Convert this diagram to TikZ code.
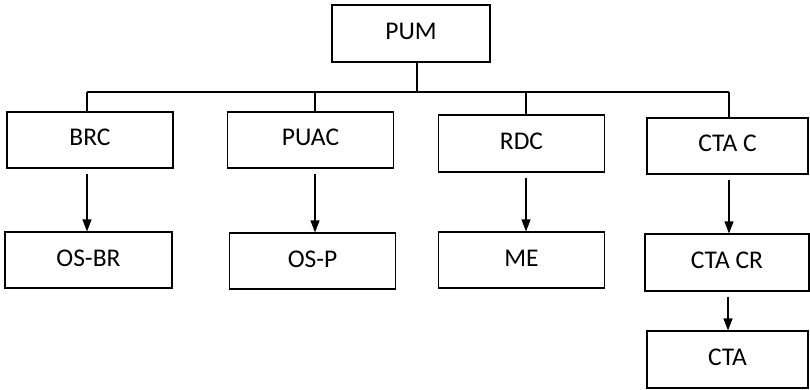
\documentclass[tikz,border=0pt]{standalone}
\usepackage{fontspec}
\setmainfont{Carlito}
\usetikzlibrary{arrows.meta}
\begin{document}
\begin{tikzpicture}[x=1pt,y=-1pt,
  box/.style={draw,line width=1.1pt,rectangle,minimum width=166pt,minimum height=56pt,inner sep=0pt,text height=17pt,text depth=5pt,font=\fontsize{25.5}{30}\selectfont},
  link/.style={line width=1.1pt},
  arr/.style={line width=1.1pt,-{Triangle[width=9pt,length=12pt]},shorten <=5pt}]
\useasboundingbox (0,0) rectangle (810,390);
\node[box,minimum width=158pt,minimum height=57pt] (pum) at (411,33.5) {PUM};
\node[box] (brc) at (90,140) {BRC};
\node[box] (puac) at (310.5,140) {PUAC};
\node[box,minimum height=57pt] (rdc) at (521.5,143.5) {RDC};
\node[box,minimum width=161pt] (ctac) at (727.5,146) {CTA C};
\node[box,minimum width=167pt] (osbr) at (88.5,260) {OS-BR};
\node[box] (osp) at (312.5,261) {OS-P};
\node[box] (me) at (521.5,260) {ME};
\node[box,minimum width=164pt,minimum height=57pt] (ctacr) at (727,262.5) {CTA CR};
\node[box,minimum width=161pt,minimum height=57pt] (cta) at (727.5,359.5) {CTA};
\coordinate (j) at (417,92);
\coordinate (bl) at (87,92);
\coordinate (b2) at (315,92);
\coordinate (b3) at (526,92);
\coordinate (br) at (729,92);
\draw[link] (j |- pum.south) -- (j);
\draw[link] (bl) -- (br);
\draw[link] (bl) -- (bl |- brc.north);
\draw[link] (b2) -- (b2 |- puac.north);
\draw[link] (b3) -- (b3 |- rdc.north);
\draw[link] (br) -- (br |- ctac.north);
\draw[arr] (bl |- brc.south) -- (bl |- osbr.north);
\draw[arr] (b2 |- puac.south) -- (b2 |- osp.north);
\draw[arr] (526,0 |- rdc.south) -- (526,0 |- me.north);
\draw[arr] (br |- ctac.south) -- (br |- ctacr.north);
\draw[arr] (728,0 |- ctacr.south) -- (728,0 |- cta.north);
\end{tikzpicture}
\end{document}
